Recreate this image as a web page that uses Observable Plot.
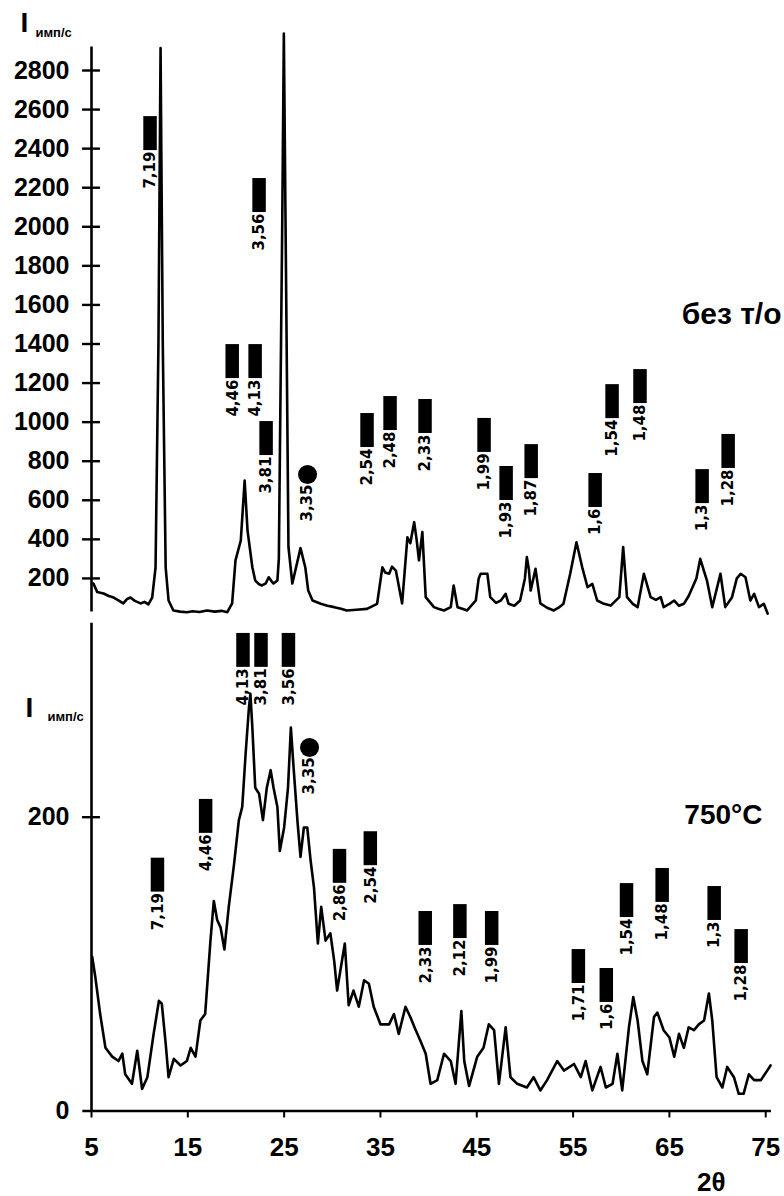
<!DOCTYPE html>
<html>
<head>
<meta charset="utf-8">
<script src="https://cdn.jsdelivr.net/npm/d3@7"></script>
<script src="https://cdn.jsdelivr.net/npm/@observablehq/plot@0.6"></script>
<style>
  html, body { margin: 0; padding: 0; background: #fff; }
  #chart svg { display: block; }
</style>
</head>
<body>
<div id="chart"></div>
<script>
// ---------- data ----------
const xTicks = [5, 15, 25, 35, 45, 55, 65, 75];
const topYTicks = [200, 400, 600, 800, 1000, 1200, 1400, 1600, 1800, 2000, 2200, 2400, 2600, 2800];
const bottomYTicks = [0, 200];

// upper pattern (без т/о): 2θ and intensity
const topTheta = [5.2, 5.6, 6.25, 6.8, 7.3, 7.8, 8.3, 8.7, 9.05, 9.5, 10.1, 10.5, 10.9, 11.3, 11.65, 11.95, 12.17, 12.4, 12.7, 13.0, 13.5, 14.2, 14.9, 15.5, 16.2, 17.0, 17.8, 18.5, 19.1, 19.6, 19.95, 20.5, 20.9, 21.2, 21.7, 22.0, 22.4, 22.7, 23.1, 23.4, 23.7, 23.9, 24.3, 24.45, 24.8, 24.97, 25.15, 25.45, 25.85, 26.7, 27.2, 27.5, 27.95, 28.8, 29.5, 30.2, 30.9, 31.5, 32.5, 33.6, 34.65, 35.2, 35.5, 35.9, 36.2, 36.6, 37.25, 37.8, 38.1, 38.5, 38.75, 39.0, 39.35, 39.7, 40.55, 41.0, 41.6, 42.3, 42.6, 43.0, 43.5, 44.0, 44.9, 45.2, 45.4, 46.1, 46.4, 47.0, 47.5, 48.0, 48.3, 48.9, 49.5, 50.0, 50.2, 50.4, 50.6, 51.1, 51.6, 52.3, 53.0, 53.5, 54.0, 54.7, 55.35, 55.95, 56.5, 57.0, 57.5, 58.2, 58.9, 59.8, 60.2, 60.6, 61.2, 61.7, 62.35, 63.05, 63.6, 64.1, 64.4, 65.0, 65.5, 66.0, 66.5, 67.0, 67.4, 67.8, 68.2, 68.9, 69.45, 70.3, 70.8, 71.5, 72.0, 72.4, 72.9, 73.4, 73.8, 74.3, 74.8, 75.2];
const topIntensity = [174, 130, 123, 110, 102, 88, 72, 95, 102, 85, 72, 80, 67, 102, 256, 1400, 2915, 1400, 256, 87, 36, 30, 27, 32, 28, 36, 30, 34, 27, 72, 292, 394, 701, 445, 257, 189, 170, 164, 175, 206, 185, 174, 189, 300, 2000, 2989, 2000, 360, 174, 355, 256, 138, 87, 70, 60, 53, 45, 36, 40, 44, 70, 257, 230, 224, 260, 240, 72, 411, 380, 488, 400, 292, 437, 104, 53, 45, 36, 53, 164, 53, 45, 36, 87, 200, 224, 224, 104, 75, 87, 121, 70, 60, 87, 200, 309, 250, 138, 249, 72, 50, 36, 50, 70, 224, 385, 257, 155, 172, 87, 70, 61, 104, 360, 104, 70, 53, 224, 104, 90, 104, 53, 70, 87, 60, 70, 110, 155, 200, 300, 189, 53, 224, 53, 104, 200, 224, 206, 87, 121, 53, 70, 20];

// lower pattern (750°C)
const bottomTheta = [5.07, 5.4, 5.9, 6.45, 7.15, 7.8, 8.2, 8.5, 9.2, 9.75, 10.25, 10.8, 11.45, 12.0, 12.3, 12.7, 13.0, 13.55, 14.25, 14.9, 15.3, 15.8, 16.3, 16.8, 17.35, 17.7, 18.05, 18.4, 18.8, 19.25, 19.8, 20.3, 20.65, 21.0, 21.35, 21.5, 21.7, 22.0, 22.4, 22.8, 23.2, 23.6, 23.9, 24.3, 24.55, 25.0, 25.4, 25.7, 26.0, 26.4, 26.7, 27.05, 27.4, 27.75, 28.1, 28.5, 28.85, 29.3, 29.8, 30.2, 30.5, 30.9, 31.3, 31.7, 32.2, 32.75, 33.3, 33.8, 34.3, 35.0, 35.9, 36.4, 36.9, 37.6, 38.1, 38.6, 39.2, 39.7, 40.2, 40.9, 41.6, 42.3, 42.8, 43.4, 43.7, 44.2, 45.05, 45.7, 46.25, 46.8, 47.3, 48.0, 48.5, 49.2, 50.2, 50.9, 51.6, 52.3, 53.35, 54.05, 55.1, 55.8, 56.3, 57.0, 57.85, 58.4, 59.1, 59.6, 60.1, 60.8, 61.25, 61.7, 62.2, 62.7, 63.4, 63.75, 64.4, 65.0, 65.5, 66.0, 66.5, 67.0, 67.55, 68.05, 68.6, 69.1, 69.45, 69.9, 70.5, 71.0, 71.7, 72.2, 72.7, 73.25, 73.8, 74.5, 75.15, 75.5];
const bottomIntensity = [105, 91, 66, 43, 37, 34, 39, 25, 18.5, 41, 15, 23, 52.5, 75, 73, 46, 23, 35.5, 31, 34, 43, 37, 61.6, 66, 116, 143, 130, 125, 110, 139, 168, 198, 207, 243, 275, 284, 261, 220, 216, 198, 220, 232, 220, 207, 177, 193, 220, 261, 232, 196, 173, 193, 193, 170.5, 152, 114, 139, 116, 121, 102, 82, 98, 114, 72, 82, 71, 89, 86.6, 71, 59, 59, 66, 52.5, 71, 64, 56, 47, 39, 18.5, 21, 39, 34, 18.5, 68, 34, 17, 37, 43, 59, 55, 18.5, 57, 23, 18.5, 16, 23, 14, 21, 34, 27.5, 32, 23, 34, 14, 30, 16, 18.5, 39, 14, 57, 77.5, 61.6, 34, 25, 64, 67, 55, 50, 37, 52.5, 43, 57, 55, 59, 61.6, 80, 61.6, 23, 16, 30, 23, 11.7, 11.7, 25, 21, 21, 27.5, 31];

// phase markers: d-spacing label, 2θ, marker level (intensity units)
const topMarkD = ["7,19", "3,56", "4,46", "4,13", "3,81", "2,54", "2,48", "2,33", "1,99", "1,93", "1,87", "1,6", "1,54", "1,48", "1,3", "1,28"];
const topMarkTheta = [11.13, 22.45, 19.66, 22.04, 23.18, 33.66, 36.05, 39.68, 45.81, 48.1, 50.7, 57.34, 59.1, 62.0, 68.45, 71.15];
const topMarkLevel = [2390, 2073, 1223, 1223, 829, 870, 957, 942, 845, 599, 711, 563, 1018, 1095, 583, 763];
const topDotD = ["3,35"];
const topDotTheta = [27.43];
const topDotLevel = [732];

const bottomMarkD = ["4,13", "3,81", "3,56", "4,46", "7,19", "2,86", "2,54", "2,33", "2,12", "1,99", "1,71", "1,6", "1,54", "1,48", "1,3", "1,28"];
const bottomMarkTheta = [20.78, 22.65, 25.5, 16.9, 11.9, 30.8, 34.0, 39.7, 43.3, 46.6, 55.6, 58.5, 60.6, 64.3, 69.7, 72.5];
const bottomMarkLevel = [302, 302, 302, 189, 149, 155, 167, 112.7, 117.4, 112.7, 86.8, 73.9, 131.7, 142, 129.7, 100.4];
const bottomDotD = ["3,35"];
const bottomDotTheta = [27.64];
const bottomDotLevel = [247.5];

// ---------- drawing ----------
const W = 784;
const xScale = {domain: [5, 75.6], range: [91, 771], axis: null};
const sansBold = "font-family: 'Liberation Sans', Arial, sans-serif; font-weight: bold; background: #fff; color: #000;";
const labelFont = "DejaVu Sans";
const halfW = 0.7; // half width of marker bars in 2θ units
const plain = d3.format("d");

function markerMarks(D, T, L, dotD, dotT, dotL, barH) {
  const idx = d3.range(D.length);
  const didx = d3.range(dotD.length);
  return [
    Plot.rect(idx, {x1: i => T[i] - halfW, x2: i => T[i] + halfW, y1: i => L[i], y2: i => L[i] + barH, fill: "black"}),
    Plot.text(idx, {x: i => T[i], y: i => L[i], text: i => D[i], rotate: -90, textAnchor: "end", dy: 1,
      fontFamily: labelFont, fontWeight: "bold", fontSize: 15, fill: "black"}),
    Plot.dot(didx, {x: i => dotT[i], y: i => dotL[i], r: 9.5, fill: "black", stroke: "none"}),
    Plot.text(didx, {x: i => dotT[i], y: i => dotL[i], text: i => dotD[i], rotate: -90, textAnchor: "end", dy: 10,
      fontFamily: labelFont, fontWeight: "bold", fontSize: 15, fill: "black"})
  ];
}

const topPlot = Plot.plot({
  width: W, height: 620,
  marginLeft: 91, marginRight: 13, marginTop: 20, marginBottom: 3,
  style: sansBold,
  x: xScale,
  y: {domain: [0, 2800], range: [617, 70], axis: null},
  marks: [
    Plot.ruleX([5], {y1: 28, y2: 2920, stroke: "black", strokeWidth: 2.6}),
    Plot.ruleY(topYTicks, {x1: 4.07, x2: 5.93, stroke: "black", strokeWidth: 2.4}),
    Plot.axisY(topYTicks, {anchor: "left", tickSize: 0, tickPadding: 22, fontSize: 25, fontWeight: "bold", tickFormat: plain}),
    Plot.line(d3.range(topTheta.length), {x: i => topTheta[i], y: i => topIntensity[i],
      stroke: "black", strokeWidth: 2.6, strokeLinejoin: "round"}),
    ...markerMarks(topMarkD, topMarkTheta, topMarkLevel, topDotD, topDotTheta, topDotLevel, 174),
    Plot.text(["без т/о"], {frameAnchor: "top-right", textAnchor: "end", lineAnchor: "top", dx: 10, dy: 282, fontSize: 30, fontWeight: "bold"}),
    Plot.text(["I"], {frameAnchor: "top-left", textAnchor: "start", lineAnchor: "top", dx: -71, dy: -8, fontSize: 28, fontWeight: "bold"}),
    Plot.text(["имп/с"], {frameAnchor: "top-left", textAnchor: "start", lineAnchor: "top", dx: -56, dy: 7, fontSize: 13, fontWeight: "bold"})
  ]
});

const bottomPlot = Plot.plot({
  width: W, height: 576,
  marginLeft: 91, marginRight: 13, marginTop: 0, marginBottom: 85.5,
  style: sansBold,
  x: xScale,
  y: {domain: [0, 200], range: [490.5, 196.7], axis: null},
  marks: [
    Plot.ruleX([5], {y1: 0, y2: 332, stroke: "black", strokeWidth: 2.6}),
    Plot.ruleY([0], {x1: 4.1, x2: 75.6, stroke: "black", strokeWidth: 2.6}),
    Plot.ruleY([200], {x1: 4.07, x2: 5.93, stroke: "black", strokeWidth: 2.4}),
    Plot.axisY(bottomYTicks, {anchor: "left", tickSize: 0, tickPadding: 22, fontSize: 25, fontWeight: "bold", tickFormat: plain}),
    Plot.axisX(xTicks, {anchor: "bottom", tickSize: 7, tickPadding: 20, fontSize: 26, fontWeight: "bold", strokeWidth: 2, tickFormat: plain}),
    Plot.line(d3.range(bottomTheta.length), {x: i => bottomTheta[i], y: i => bottomIntensity[i],
      stroke: "black", strokeWidth: 2.6, strokeLinejoin: "round"}),
    ...markerMarks(bottomMarkD, bottomMarkTheta, bottomMarkLevel, bottomDotD, bottomDotTheta, bottomDotLevel, 23.1),
    Plot.text(["750°C"], {frameAnchor: "top-right", textAnchor: "end", lineAnchor: "top", dx: -9, dy: 184, fontSize: 28, fontWeight: "bold"}),
    Plot.text(["2θ"], {frameAnchor: "bottom-right", textAnchor: "end", lineAnchor: "top", dx: -46, dy: 62, fontSize: 26, fontWeight: "bold"}),
    Plot.text(["I"], {frameAnchor: "top-left", textAnchor: "start", lineAnchor: "top", dx: -66, dy: 77, fontSize: 28, fontWeight: "bold"}),
    Plot.text(["имп/с"], {frameAnchor: "top-left", textAnchor: "start", lineAnchor: "top", dx: -44, dy: 91, fontSize: 13, fontWeight: "bold"})
  ]
});

const chart = document.getElementById("chart");
chart.appendChild(topPlot);
chart.appendChild(bottomPlot);
</script>
</body>
</html>
